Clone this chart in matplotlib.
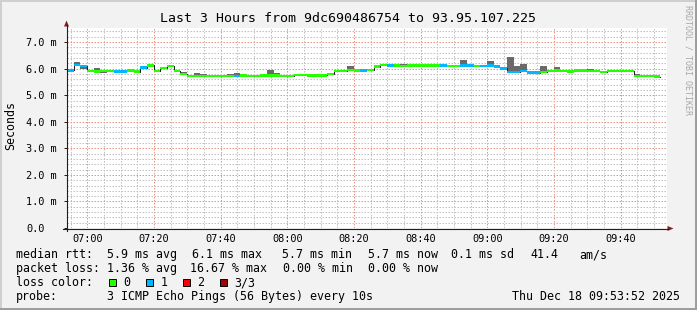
import numpy as np
import matplotlib
matplotlib.use('Agg')
import matplotlib.pyplot as plt
from matplotlib.patches import Rectangle, Polygon
from matplotlib.lines import Line2D

# chart text
title = "Last 3 Hours from 9dc690486754 to 93.95.107.225"
ylabel = "Seconds"
end_time = "09:53:52"
span_minutes = 180
step_minutes = 2
xtick_labels = ["07:00", "07:20", "07:40", "08:00", "08:20", "08:40", "09:00", "09:20", "09:40"]
ytick_values = [0, 1, 2, 3, 4, 5, 6, 7]
ytick_labels = ["0.0", "1.0 m", "2.0 m", "3.0 m", "4.0 m", "5.0 m", "6.0 m", "7.0 m"]

# median rtt per 2 minute step (ms)
median = [5.93, 6.13, 6.10, 5.92, 5.90, 5.92, 5.92, 5.90, 5.90, 5.93,
          5.89, 6.04, 6.12, 5.91, 6.03, 6.10, 5.92, 5.80, 5.73, 5.73,
          5.73, 5.73, 5.72, 5.73, 5.73, 5.73, 5.74, 5.73, 5.72, 5.74,
          5.74, 5.75, 5.73, 5.73, 5.76, 5.76, 5.75, 5.75, 5.75, 5.80,
          5.92, 5.91, 5.95, 5.93, 5.93, 5.94, 6.08, 6.13, 6.12, 6.11,
          6.10, 6.11, 6.11, 6.11, 6.11, 6.11, 6.12, 6.10, 6.10, 6.12,
          6.12, 6.10, 6.10, 6.12, 6.08, 6.01, 5.87, 5.88, 5.91, 5.85,
          5.85, 5.88, 5.91, 5.93, 5.91, 5.90, 5.93, 5.93, 5.92, 5.92,
          5.88, 5.92, 5.92, 5.92, 5.92, 5.73, 5.73, 5.73, 5.70]
# smoke: highest / lowest ping per step (ms)
smoke_hi = [5.97, 6.25, 6.10, 5.92, 6.02, 5.92, 5.92, 5.90, 5.90, 5.96,
            5.93, 6.09, 6.16, 5.91, 6.03, 6.10, 5.92, 5.86, 5.73, 5.83,
            5.78, 5.73, 5.77, 5.76, 5.81, 5.84, 5.77, 5.73, 5.72, 5.74,
            5.94, 5.85, 5.73, 5.73, 5.76, 5.78, 5.77, 5.80, 5.75, 5.85,
            5.92, 5.91, 6.10, 5.93, 5.93, 5.94, 6.08, 6.13, 6.16, 6.11,
            6.16, 6.11, 6.14, 6.11, 6.11, 6.11, 6.12, 6.10, 6.10, 6.32,
            6.12, 6.10, 6.10, 6.28, 6.08, 6.07, 6.45, 6.10, 6.17, 5.88,
            5.85, 6.10, 5.91, 6.06, 5.91, 5.90, 5.93, 5.96, 5.98, 5.92,
            5.88, 5.92, 5.92, 5.92, 5.96, 5.78, 5.73, 5.73, 5.74]
smoke_lo = [5.93, 6.13, 6.00, 5.92, 5.90, 5.85, 5.92, 5.90, 5.90, 5.93,
            5.89, 6.04, 6.12, 5.91, 6.03, 6.10, 5.92, 5.80, 5.73, 5.73,
            5.73, 5.73, 5.72, 5.73, 5.73, 5.73, 5.74, 5.73, 5.72, 5.74,
            5.74, 5.75, 5.68, 5.73, 5.76, 5.76, 5.75, 5.75, 5.75, 5.80,
            5.92, 5.91, 5.95, 5.93, 5.93, 5.94, 6.08, 6.13, 6.12, 6.11,
            6.10, 6.11, 6.11, 6.11, 6.11, 6.06, 6.12, 6.10, 6.10, 6.12,
            6.12, 6.10, 6.10, 6.12, 6.08, 6.01, 5.84, 5.88, 5.91, 5.85,
            5.85, 5.88, 5.91, 5.93, 5.86, 5.90, 5.93, 5.93, 5.92, 5.92,
            5.88, 5.92, 5.92, 5.92, 5.92, 5.73, 5.73, 5.73, 5.70]
# lost pings per step (of 3)
loss = [1, 1, 1, 0, 0, 0, 0, 1, 1, 0,
        0, 1, 0, 0, 0, 0, 0, 0, 0, 0,
        0, 0, 0, 0, 0, 1, 0, 0, 0, 0,
        0, 0, 0, 0, 0, 0, 0, 0, 0, 0,
        0, 0, 0, 0, 1, 0, 0, 0, 1, 0,
        0, 0, 0, 0, 0, 0, 1, 0, 0, 1,
        1, 0, 1, 1, 1, 1, 1, 1, 1, 1,
        1, 0, 0, 0, 0, 0, 0, 0, 0, 0,
        0, 0, 0, 0, 0, 0, 0, 0, 0]

loss_colors = ['#26ff00', '#00b8ff', '#ff0000', '#a00000']
loss_labels = ['0', '1', '2', '3/3']

legend_rtt = [("median rtt:", 16), ("5.9 ms avg", 107), ("6.1 ms max", 192),
              ("5.7 ms min", 282), ("5.7 ms now", 368), ("0.1 ms sd", 451),
              ("41.4", 530), ("am/s", 579)]
legend_loss = [("packet loss:", 16), ("1.36 % avg", 107), ("16.67 % max", 190),
               ("0.00 % min", 283), ("0.00 % now", 368)]
probe_text = "3 ICMP Echo Pings (56 Bytes) every 10s"
stamp = "Thu Dec 18 09:53:52 2025"
watermark = "RRDTOOL / TOBI OETIKER"

W, H = 697, 310
MONO = 'DejaVu Sans Mono'
plt.rcParams['font.family'] = MONO

def fx(x):
    return x / W

def fy(y):
    return 1 - y / H

def hm(s):
    p = [int(v) for v in s.split(':')]
    return p[0] * 60 + p[1] + (p[2] / 60 if len(p) > 2 else 0)

fig = plt.figure(figsize=(W / 100, H / 100), dpi=100, facecolor='#f2f2f2')
ax = fig.add_axes([fx(67), fy(228), 600 / W, 200 / H])
ax.set_facecolor('#ffffff')
for s in ax.spines.values():
    s.set_visible(False)

t_end = hm(end_time)
t_start = t_end - span_minutes
ymax = 7.53
ax.set_xlim(t_start, t_end)
ax.set_ylim(0, ymax)

median = np.array(median)
smoke_hi = np.array(smoke_hi)
smoke_lo = np.array(smoke_lo)
steps = t_start + step_minutes * np.arange(len(median))
swidth = 1.25 * ymax / 200

# grid
ax.set_xticks([hm(t) for t in xtick_labels], labels=xtick_labels)
ax.set_xticks(np.arange(np.ceil(t_start / 5) * 5, t_end, 5), minor=True)
ax.set_yticks(ytick_values, labels=ytick_labels)
ax.set_yticks(np.arange(0, ymax, 0.2), minor=True)
ax.set_axisbelow(True)
ax.grid(which='minor', color='#c2c2c2', lw=0.72, linestyle=(0, (1.5, 1.5)))
ax.grid(which='major', color='#eb9685', lw=0.72, linestyle=(0, (1.5, 1.5)))
ax.tick_params(which='minor', length=0)
ax.tick_params(axis='x', which='major', length=0, pad=4, labelsize=7.4)
ax.tick_params(axis='y', which='major', length=2.2, width=0.72, color='#1f1f1f',
               pad=27.3, labelsize=7.4)
for lab in ax.get_yticklabels():
    lab.set_horizontalalignment('left')

# smoke, median line, loss-colored median band
ax.bar(steps, smoke_hi - smoke_lo, bottom=smoke_lo, width=step_minutes, align='edge',
       color='#6a6a6a', linewidth=0, zorder=3)
ax.step(np.append(steps, steps[-1] + step_minutes), np.append(median, median[-1]),
        where='post', color='#202020', lw=0.75, zorder=4)
ax.bar(steps, 2 * swidth, bottom=median - swidth, width=step_minutes, align='edge',
       color=[loss_colors[l] for l in loss], linewidth=0, zorder=5)

# axes with arrows
axis_c = '#1f1f1f'
arrow_c = '#801f1f'
fig.add_artist(Line2D([fx(66.5), fx(66.5)], [fy(230.5), fy(25)], color=axis_c, lw=0.8))
fig.add_artist(Line2D([fx(63), fx(668)], [fy(228.5), fy(228.5)], color=axis_c, lw=0.8))
fig.add_artist(Polygon([(fx(64), fy(26.5)), (fx(69), fy(26.5)), (fx(66.5), fy(20.5))],
                       closed=True, color=arrow_c, lw=0))
fig.add_artist(Polygon([(fx(667.5), fy(226)), (fx(667.5), fy(231)), (fx(673.5), fy(228.5))],
                       closed=True, color=arrow_c, lw=0))

# border shading
fig.add_artist(Rectangle((0, fy(2)), 1, 2 / H, transform=fig.transFigure, color='#cfcfcf', lw=0))
fig.add_artist(Rectangle((0, 0), 2 / W, 1, transform=fig.transFigure, color='#cfcfcf', lw=0))
fig.add_artist(Rectangle((0, 0), 1, 2 / H, transform=fig.transFigure, color='#9e9e9e', lw=0))
fig.add_artist(Rectangle((fx(W - 2), 0), 2 / W, 1, transform=fig.transFigure, color='#9e9e9e', lw=0))

# texts
fig.text(fx(347.5), fy(19), title, ha='center', va='center', fontsize=9.5, color='#000000')
fig.text(fx(11), fy(126), ylabel, rotation=90, ha='center', va='center', fontsize=8.4)
fig.text(fx(688), fy(60), watermark, rotation=-90, ha='center', va='center',
         fontsize=6, color='#a8a8a8')

LEG = 8.4
for s, x in legend_rtt:
    fig.text(fx(x), fy(254.5), s, ha='left', va='center', fontsize=LEG)
for s, x in legend_loss:
    fig.text(fx(x), fy(268.5), s, ha='left', va='center', fontsize=LEG)
fig.text(fx(16), fy(282.5), "loss color:", ha='left', va='center', fontsize=LEG)
box_x = [108.5, 145.5, 182.5, 219.5]
for bx, c, lab in zip(box_x, loss_colors, loss_labels):
    fig.add_artist(Rectangle((fx(bx), fy(286)), 7 / W, 7 / H, transform=fig.transFigure,
                             facecolor=c, edgecolor='#000000', lw=0.7))
    fig.text(fx(bx + 15), fy(282.5), lab, ha='left', va='center', fontsize=LEG)
fig.text(fx(16), fy(296.5), "probe:", ha='left', va='center', fontsize=LEG)
fig.text(fx(107), fy(296.5), probe_text, ha='left', va='center', fontsize=LEG)
fig.text(fx(680), fy(296.5), stamp, ha='right', va='center', fontsize=LEG)

fig.savefig('out.png', dpi=100, facecolor=fig.get_facecolor())
